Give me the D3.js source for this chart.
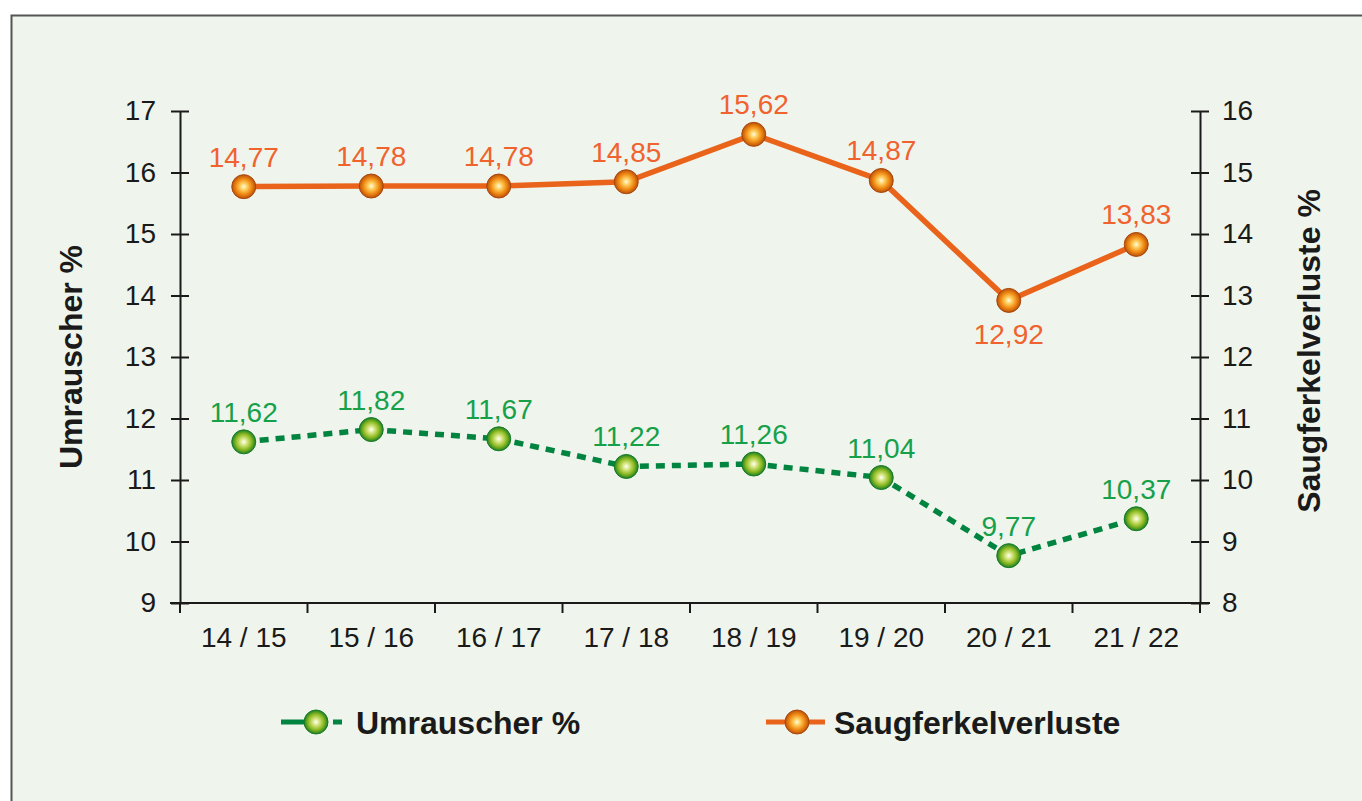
<!DOCTYPE html>
<html>
<head>
<meta charset="utf-8">
<script src="https://cdn.jsdelivr.net/npm/d3@7"></script>
<style>
  body { margin: 0; background: #fff; }
  svg { display: block; font-family: "Liberation Sans", Arial, sans-serif; }
</style>
</head>
<body>
<svg id="chart" width="1362" height="801"></svg>
<script>
// data
var seasons = ["14 / 15", "15 / 16", "16 / 17", "17 / 18", "18 / 19", "19 / 20", "20 / 21", "21 / 22"];
var umrauscher = [11.62, 11.82, 11.67, 11.22, 11.26, 11.04, 9.77, 10.37];
var saugferkel = [14.77, 14.78, 14.78, 14.85, 15.62, 14.87, 12.92, 13.83];
var leftTicks = [9, 10, 11, 12, 13, 14, 15, 16, 17];
var rightTicks = [8, 9, 10, 11, 12, 13, 14, 15, 16];

var GREEN = "#00843f", GREEN_TXT = "#17a04a";
var ORANGE = "#e9631a", ORANGE_TXT = "#f0622e";
var fmt = function (v) { return v.toFixed(2).replace(".", ","); };

var svg = d3.select("#chart");

// background panel
svg.append("rect")
    .attr("x", 11.5).attr("y", 15.5)
    .attr("width", 1362).attr("height", 800)
    .attr("fill", "#eff5ec")
    .attr("stroke", "#555").attr("stroke-width", 2);

var x = d3.scaleBand().domain(seasons).range([180, 1200]);
var yL = d3.scaleLinear().domain([9, 17]).range([603, 111]);
var yR = d3.scaleLinear().domain([8, 16]).range([603, 111]);
var cx = function (i) { return x(seasons[i]) + x.bandwidth() / 2; };

// gradients for the ball markers
var defs = svg.append("defs");
function ball(id, stops) {
    var g = defs.append("radialGradient").attr("id", id)
        .attr("cx", "50%").attr("cy", "50%").attr("r", "50%");
    stops.forEach(function (s) {
        g.append("stop").attr("offset", s[0]).attr("stop-color", s[1]);
    });
}
ball("ballGreen", [["0%", "#ffffff"], ["25%", "#dbe98a"], ["65%", "#8dba22"], ["100%", "#1f7f22"]]);
ball("ballOrange", [["0%", "#fffbe6"], ["25%", "#ffd468"], ["65%", "#f08a12"], ["100%", "#b9500c"]]);

// axes
var axisStyle = function (g) {
    g.selectAll("path, line").attr("stroke", "#1a1a1a").attr("stroke-width", 2);
    g.selectAll("text").attr("font-size", 28).attr("fill", "#1a1a1a")
        .attr("font-family", "Liberation Sans, Arial, sans-serif");
};

var left = svg.append("g").attr("transform", "translate(180,0)")
    .call(d3.axisLeft(yL).tickValues(leftTicks).tickSizeInner(8).tickSizeOuter(0).tickPadding(16));
left.selectAll(".tick line").attr("x2", 9).attr("x1", -9);
axisStyle(left);

var right = svg.append("g").attr("transform", "translate(1200,0)")
    .call(d3.axisRight(yR).tickValues(rightTicks).tickSizeInner(8).tickSizeOuter(0).tickPadding(14));
right.selectAll(".tick line").attr("x1", -9).attr("x2", 9);
axisStyle(right);

var bottom = svg.append("g").attr("transform", "translate(0,603)")
    .call(d3.axisBottom(x).tickSize(0).tickPadding(24));
axisStyle(bottom);
bottom.select(".domain").attr("d", "M170,0H1210");
// tick marks between categories
bottom.selectAll("line.sep")
    .data(d3.range(seasons.length + 1))
    .enter().append("line")
    .attr("class", "sep")
    .attr("x1", function (i) { return 180 + i * x.step(); })
    .attr("x2", function (i) { return 180 + i * x.step(); })
    .attr("y1", 0).attr("y2", 10)
    .attr("stroke", "#1a1a1a").attr("stroke-width", 2);

// axis titles
svg.append("text")
    .attr("transform", "translate(82,357) rotate(-90)")
    .attr("text-anchor", "middle")
    .attr("font-size", 32).attr("font-weight", "bold").attr("fill", "#1a1a1a")
    .text("Umrauscher %");
svg.append("text")
    .attr("transform", "translate(1320,351) rotate(-90)")
    .attr("text-anchor", "middle")
    .attr("font-size", 32).attr("font-weight", "bold").attr("fill", "#1a1a1a")
    .text("Saugferkelverluste %");

// lines
var lineL = d3.line().x(function (d, i) { return cx(i); }).y(function (d) { return yL(d); });
var lineR = d3.line().x(function (d, i) { return cx(i); }).y(function (d) { return yR(d); });

svg.append("path").datum(saugferkel)
    .attr("d", lineR).attr("fill", "none")
    .attr("stroke", ORANGE).attr("stroke-width", 5.5);

svg.append("path").datum(umrauscher)
    .attr("d", lineL).attr("fill", "none")
    .attr("stroke", GREEN).attr("stroke-width", 5.5)
    .attr("stroke-dasharray", "9,7");

// markers
svg.selectAll("circle.or").data(saugferkel).enter().append("circle")
    .attr("class", "or")
    .attr("cx", function (d, i) { return cx(i); })
    .attr("cy", function (d) { return yR(d); })
    .attr("r", 12).attr("fill", "url(#ballOrange)")
    .attr("stroke", "#a9460c").attr("stroke-width", 1);

svg.selectAll("circle.gr").data(umrauscher).enter().append("circle")
    .attr("class", "gr")
    .attr("cx", function (d, i) { return cx(i); })
    .attr("cy", function (d) { return yL(d); })
    .attr("r", 12).attr("fill", "url(#ballGreen)")
    .attr("stroke", "#137a2a").attr("stroke-width", 1);

// value labels
svg.selectAll("text.lo").data(saugferkel).enter().append("text")
    .attr("class", "lo")
    .attr("x", function (d, i) { return cx(i); })
    .attr("y", function (d, i) { return i === 6 ? yR(d) + 44 : yR(d) - 20; })
    .attr("text-anchor", "middle")
    .attr("font-size", 28).attr("fill", ORANGE_TXT)
    .text(fmt);

svg.selectAll("text.lg").data(umrauscher).enter().append("text")
    .attr("class", "lg")
    .attr("x", function (d, i) { return cx(i); })
    .attr("y", function (d) { return yL(d) - 20; })
    .attr("text-anchor", "middle")
    .attr("font-size", 28).attr("fill", GREEN_TXT)
    .text(fmt);

// legend
var legend = svg.append("g");
legend.append("line").attr("x1", 281).attr("x2", 316).attr("y1", 722).attr("y2", 722)
    .attr("stroke", GREEN).attr("stroke-width", 5);
legend.append("line").attr("x1", 333).attr("x2", 342).attr("y1", 722).attr("y2", 722)
    .attr("stroke", GREEN).attr("stroke-width", 5);
legend.append("circle").attr("cx", 316).attr("cy", 722).attr("r", 12)
    .attr("fill", "url(#ballGreen)").attr("stroke", "#137a2a");
legend.append("text").attr("x", 356).attr("y", 734)
    .attr("font-size", 32).attr("font-weight", "bold").attr("fill", "#1a1a1a")
    .text("Umrauscher %");

legend.append("line").attr("x1", 766).attr("x2", 825).attr("y1", 722).attr("y2", 722)
    .attr("stroke", ORANGE).attr("stroke-width", 5);
legend.append("circle").attr("cx", 797).attr("cy", 722).attr("r", 12)
    .attr("fill", "url(#ballOrange)").attr("stroke", "#a9460c");
legend.append("text").attr("x", 834).attr("y", 734)
    .attr("font-size", 32).attr("font-weight", "bold").attr("fill", "#1a1a1a")
    .text("Saugferkelverluste");
</script>
</body>
</html>
